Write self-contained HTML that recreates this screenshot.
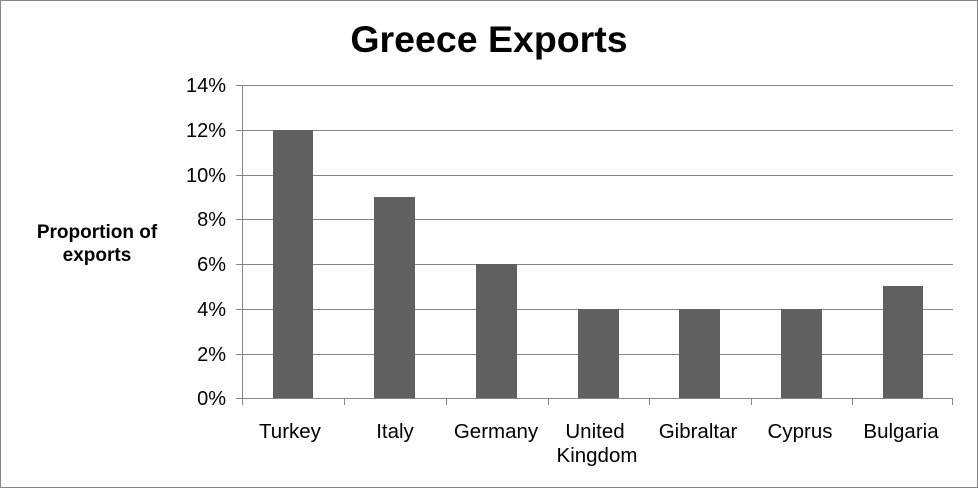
<!DOCTYPE html>
<html><head><style>body{margin:0;background:#fff}</style></head><body>
<svg width="978" height="488" xmlns="http://www.w3.org/2000/svg" font-family="Liberation Sans, Arial, sans-serif">
<rect x="0.5" y="0.5" width="977" height="487" fill="#fff" stroke="#868686"/>
<text x="489" y="52" text-anchor="middle" font-size="37.5" font-weight="bold">Greece Exports</text>
<g stroke="#868686" stroke-width="1">
<line x1="236" y1="85.5" x2="953" y2="85.5"/>
<line x1="236" y1="130.5" x2="953" y2="130.5"/>
<line x1="236" y1="175.5" x2="953" y2="175.5"/>
<line x1="236" y1="219.5" x2="953" y2="219.5"/>
<line x1="236" y1="264.5" x2="953" y2="264.5"/>
<line x1="236" y1="309.5" x2="953" y2="309.5"/>
<line x1="236" y1="354.5" x2="953" y2="354.5"/>
<line x1="236" y1="398.5" x2="953" y2="398.5"/>
<line x1="242.5" y1="85" x2="242.5" y2="405"/>
<line x1="344.5" y1="398" x2="344.5" y2="405"/>
<line x1="446.5" y1="398" x2="446.5" y2="405"/>
<line x1="548.5" y1="398" x2="548.5" y2="405"/>
<line x1="649.5" y1="398" x2="649.5" y2="405"/>
<line x1="751.5" y1="398" x2="751.5" y2="405"/>
<line x1="852.5" y1="398" x2="852.5" y2="405"/>
<line x1="952.5" y1="398" x2="952.5" y2="405"/>
</g>
<g fill="#606060">
<rect x="273" y="130" width="40" height="268"/>
<rect x="374" y="197" width="41" height="201"/>
<rect x="476" y="264" width="41" height="134"/>
<rect x="578" y="309" width="41" height="89"/>
<rect x="679" y="309" width="41" height="89"/>
<rect x="781" y="309" width="41" height="89"/>
<rect x="883" y="286" width="40" height="112"/>
</g>
<g font-size="20" text-anchor="end">
<text x="226" y="92">14%</text>
<text x="226" y="137">12%</text>
<text x="226" y="182">10%</text>
<text x="226" y="226">8%</text>
<text x="226" y="271">6%</text>
<text x="226" y="316">4%</text>
<text x="226" y="361">2%</text>
<text x="226" y="405">0%</text>
</g>
<g font-size="20.5" text-anchor="middle">
<text x="290" y="438">Turkey</text>
<text x="395" y="438">Italy</text>
<text x="496" y="438">Germany</text>
<text x="595" y="438">United</text>
<text x="597" y="462">Kingdom</text>
<text x="698" y="438">Gibraltar</text>
<text x="800" y="438">Cyprus</text>
<text x="901" y="438">Bulgaria</text>
</g>
<g font-size="19" font-weight="bold" text-anchor="middle">
<text x="97" y="238">Proportion of</text>
<text x="97" y="261">exports</text>
</g>
</svg>
</body></html>
